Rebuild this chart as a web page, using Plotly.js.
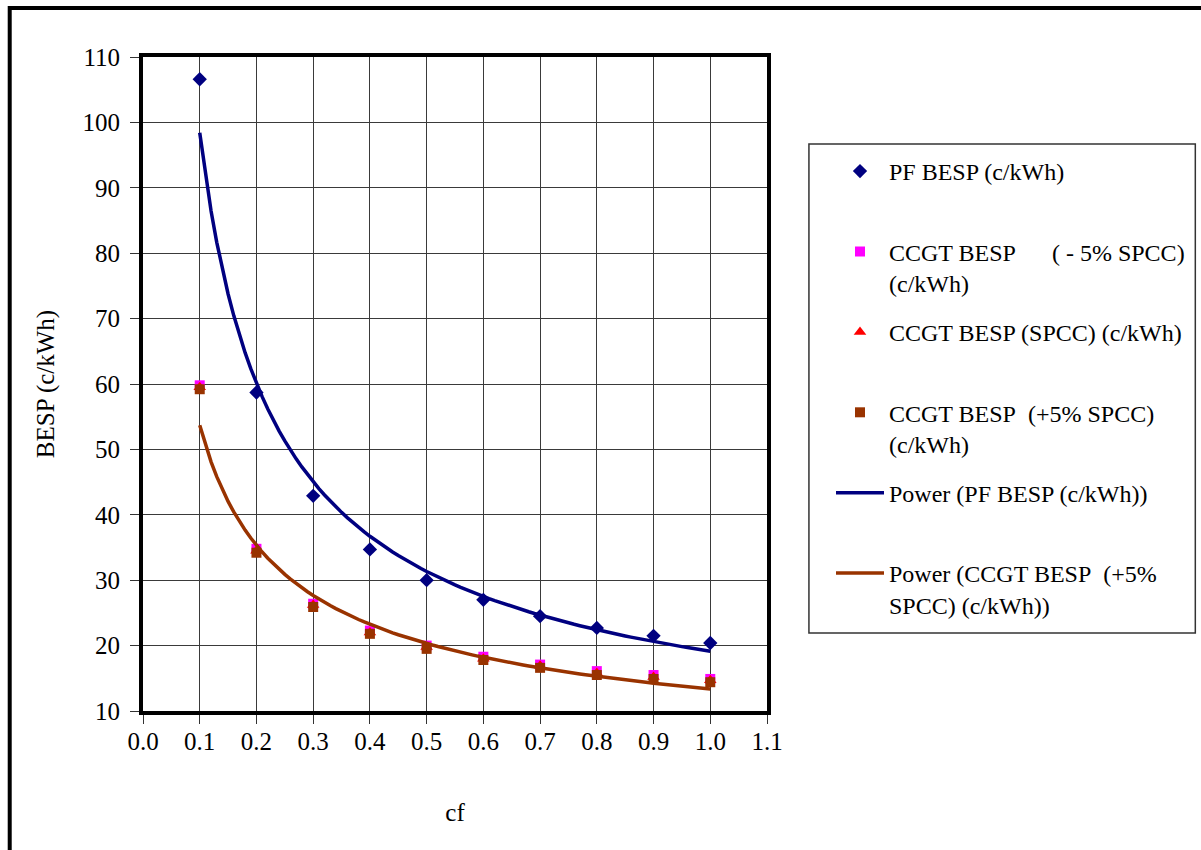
<!DOCTYPE html>
<html>
<head>
<meta charset="utf-8">
<script src="https://cdn.plot.ly/plotly-3.0.1.min.js"></script>
<style>
  html, body { margin: 0; padding: 0; background: #ffffff; }
  #chart { width: 1201px; height: 850px; }
</style>
</head>
<body>
<div id="chart"></div>
<script>
// Capacity factor (cf)
const cf = [0.1, 0.2, 0.3, 0.4, 0.5, 0.6, 0.7, 0.8, 0.9, 1.0];

// Break-even selling price, c/kWh
const pfBesp        = [106.6, 58.7, 42.9, 34.7, 30.0, 27.0, 24.5, 22.7, 21.5, 20.4];
const ccgtBespMinus = [59.8, 34.8, 26.4, 22.3, 20.0, 18.3, 17.1, 16.1, 15.5, 14.9];
const ccgtBesp      = [59.5, 34.5, 26.2, 22.0, 19.8, 18.0, 16.9, 15.8, 15.2, 14.7];
const ccgtBespPlus  = [59.2, 34.2, 25.9, 21.8, 19.5, 17.8, 16.6, 15.5, 14.9, 14.4];

const seriesNames = [
  'PF BESP (c/kWh)<br>\u00A0',
  'CCGT BESP\u00A0\u00A0\u00A0\u00A0\u00A0\u00A0( - 5% SPCC)<br>(c/kWh)',
  'CCGT BESP (SPCC) (c/kWh)<br>\u00A0',
  'CCGT BESP\u00A0\u00A0(+5% SPCC)<br>(c/kWh)',
  'Power (PF BESP (c/kWh))<br>\u00A0',
  'Power (CCGT BESP\u00A0\u00A0(+5%<br>SPCC) (c/kWh))'
];

// Power-law trendline y = a * x^b, least squares in log-log space
function powerFit(xs, ys) {
  const lx = xs.map(Math.log), ly = ys.map(Math.log);
  const n = xs.length;
  const mx = lx.reduce((s, v) => s + v, 0) / n;
  const my = ly.reduce((s, v) => s + v, 0) / n;
  let sxy = 0, sxx = 0;
  for (let i = 0; i < n; i++) {
    sxy += (lx[i] - mx) * (ly[i] - my);
    sxx += (lx[i] - mx) * (lx[i] - mx);
  }
  const b = sxy / sxx;
  const a = Math.exp(my - b * mx);
  const x0 = Math.min(...xs), x1 = Math.max(...xs);
  const fx = [], fy = [];
  const steps = 90;
  for (let k = 0; k <= steps; k++) {
    const x = x0 + (x1 - x0) * k / steps;
    fx.push(x);
    fy.push(a * Math.pow(x, b));
  }
  return { x: fx, y: fy };
}

const pfFit = powerFit(cf, pfBesp);
const ccgtFit = powerFit(cf, ccgtBespPlus);

const serif = 'Liberation Serif, Times New Roman, serif';

const traces = [
  { x: cf, y: pfBesp, name: seriesNames[0], mode: 'markers', legendgroup: 'g1',
    marker: { symbol: 'diamond', size: 11, color: '#000080' } },
  { x: cf, y: ccgtBespMinus, name: seriesNames[1], mode: 'markers', legendgroup: 'g2',
    marker: { symbol: 'square', size: 10, color: '#ff00ff' } },
  { x: cf, y: ccgtBesp, name: seriesNames[2], mode: 'markers', legendgroup: 'g3',
    marker: { symbol: 'triangle-up', size: 11, color: '#ff0000' } },
  { x: cf, y: ccgtBespPlus, name: seriesNames[3], mode: 'markers', legendgroup: 'g4',
    marker: { symbol: 'square', size: 10, color: '#993300' } },
  { x: pfFit.x, y: pfFit.y, name: seriesNames[4], mode: 'lines', legendgroup: 'g5',
    line: { color: '#000080', width: 3.5 } },
  { x: ccgtFit.x, y: ccgtFit.y, name: seriesNames[5], mode: 'lines', legendgroup: 'g6',
    line: { color: '#993300', width: 3.5 } }
];

// plot area in pixels: x 143..768, y 57..711
const L = 143, R = 768, T = 57, B = 711;
const W = R - L, H = B - T;
const px = v => (v - L) / W;
const py = v => (B - v) / H;

const layout = {
  width: 1201,
  height: 850,
  margin: { l: L, r: 1201 - R, t: T, b: 850 - B },
  paper_bgcolor: '#ffffff',
  plot_bgcolor: '#ffffff',
  font: { family: serif, size: 25, color: '#000000' },
  showlegend: true,
  legend: {
    x: px(831), y: py(149), xanchor: 'left', yanchor: 'top',
    bgcolor: 'rgba(0,0,0,0)', borderwidth: 0,
    font: { family: serif, size: 24, color: '#000000' },
    itemwidth: 48, valign: 'top', tracegroupgap: 15,
    traceorder: 'grouped'
  },
  xaxis: {
    range: [0, 1.1], dtick: 0.1, tick0: 0, tickformat: '.1f',
    showgrid: true, gridcolor: '#3a3a3a', gridwidth: 1,
    showline: true, linecolor: '#000000', linewidth: 4, mirror: true,
    ticks: 'outside', ticklen: 9, tickwidth: 1, tickcolor: '#333333',
    zeroline: false, ticklabelstandoff: -4,
    tickfont: { family: serif, size: 25 },
    title: { text: 'cf', font: { family: serif, size: 25 }, standoff: 50 }
  },
  yaxis: {
    range: [10, 110], dtick: 10, tick0: 10,
    showgrid: true, gridcolor: '#3a3a3a', gridwidth: 1,
    showline: true, linecolor: '#000000', linewidth: 4, mirror: true,
    ticks: 'outside', ticklen: 9, tickwidth: 1, tickcolor: '#333333',
    zeroline: false, ticklabelstandoff: 5,
    tickfont: { family: serif, size: 25 },
    title: { text: 'BESP (c/kWh)', font: { family: serif, size: 25 }, standoff: 22 }
  },
  shapes: [
    // outer chart frame (top and left edges)
    { type: 'path', xref: 'paper', yref: 'paper',
      path: 'M ' + px(1215) + ' ' + py(8) + ' L ' + px(9.5) + ' ' + py(8) + ' L ' + px(9.5) + ' ' + py(870),
      line: { color: '#000000', width: 4 } },
    // legend box
    { type: 'rect', xref: 'paper', yref: 'paper',
      x0: px(810), x1: px(1197), y0: py(633), y1: py(144),
      line: { color: '#333333', width: 1.5 }, fillcolor: 'rgba(0,0,0,0)' }
  ]
};

Plotly.newPlot('chart', traces, layout, { displayModeBar: false, staticPlot: true });
</script>
</body>
</html>
